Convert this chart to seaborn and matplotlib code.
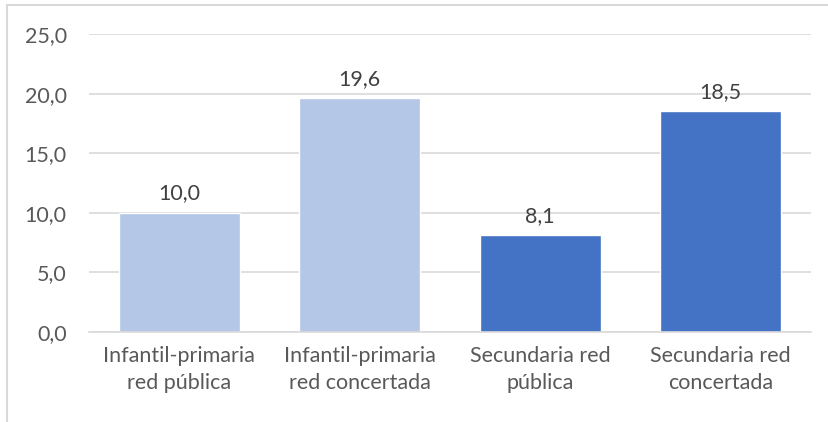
import matplotlib
matplotlib.use("Agg")
import matplotlib.pyplot as plt
from matplotlib.lines import Line2D
import pandas as pd
import seaborn as sns

# -----------------------------
# Data
# -----------------------------

categories = [
    "Infantil-primaria\nred pública",
    "Infantil-primaria\nred concertada",
    "Secundaria red\npública",
    "Secundaria red\nconcertada",
]
values = [10.0, 19.6, 8.1, 18.5]
bar_colors = ["#B4C7E7", "#B4C7E7", "#4472C4", "#4472C4"]
y_ticks = [0, 5, 10, 15, 20, 25]

TEXT = "#595959"
GRID = "#D9D9D9"
FS = 15.5


def fmt(v):
    return f"{v:.1f}".replace(".", ",")


def main():

    sns.set_style("white")
    plt.rcParams["font.family"] = ["Lato", "DejaVu Sans"]

    df = pd.DataFrame({"cat": categories, "val": values})

    fig = plt.figure(figsize=(8.29, 4.22), dpi=100)
    ax = fig.add_axes([89 / 829, 90 / 422, 722 / 829, 298 / 422])

    sns.barplot(
        data=df, x="cat", y="val", hue="cat",
        palette=bar_colors, width=0.67, legend=False,
        saturation=1, ax=ax,
    )

    ax.set_ylim(0, 25)
    ax.set_yticks(y_ticks)
    ax.set_yticklabels([fmt(t) for t in y_ticks])
    ax.yaxis.grid(True, color=GRID, linewidth=1.2)
    ax.set_axisbelow(True)

    for s in ["top", "right", "left"]:
        ax.spines[s].set_visible(False)
    ax.spines["bottom"].set_color(GRID)
    ax.spines["bottom"].set_linewidth(1.2)

    ax.tick_params(axis="both", length=0, labelsize=FS, colors=TEXT)
    ax.tick_params(axis="y", pad=16)
    ax.tick_params(axis="x", pad=10)
    ax.set_xlabel("")
    ax.set_ylabel("")
    for lbl in ax.get_xticklabels():
        lbl.set_linespacing(1.45)

    for cont in ax.containers:
        ax.bar_label(cont, labels=[fmt(b.get_height()) for b in cont],
                     padding=7, fontsize=FS, color="#404040")

    # outer chart frame (only left and top visible in the crop)
    fig.add_artist(Line2D([7.5 / 829, 7.5 / 829], [0, 1 - 5 / 422],
                          transform=fig.transFigure, color=GRID, lw=1.5))
    fig.add_artist(Line2D([7.5 / 829, 1], [1 - 5 / 422, 1 - 5 / 422],
                          transform=fig.transFigure, color=GRID, lw=1.5))

    fig.savefig("out.png", dpi=100)


if __name__ == "__main__":
    main()
